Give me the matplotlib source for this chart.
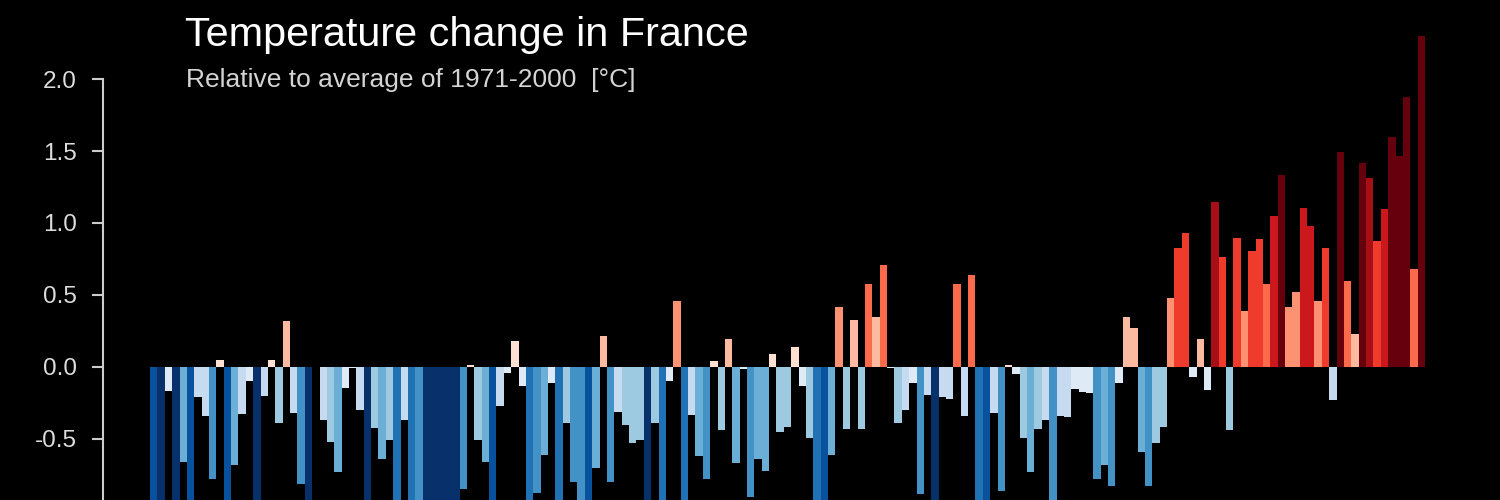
import numpy as np
import matplotlib
matplotlib.use("Agg")
import matplotlib.pyplot as plt
from matplotlib.colors import ListedColormap, Normalize

# annual anomalies (deg C, relative to 1971-2000)
years = np.arange(1850, 2023)
anomaly = [
    -1.2, -1.5, -0.165, -1.5, -0.657, -1.25, -0.21, -0.34, -0.78, 0.046,
    -1.25, -0.68, -0.33, -0.10, -1.5, -0.20, 0.046, -0.39, 0.317, -0.32,
    -0.81, -1.5, 0.0, -0.368, -0.52, -0.727, -0.148, -0.01, -0.30, -1.5,
    -0.426, -0.64, -0.51, -1.05, -0.368, -1.05, -0.94, -1.5, -1.5, -1.5,
    -1.5, -1.5, -0.85, 0.015, -0.507, -0.657, -1.2, -0.27, -0.04, 0.178,
    -0.132, -1.05, -0.877, -0.61, -0.109, -1.05, -0.39, -0.80, -0.94, -1.2,
    -0.70, 0.218, -0.80, -0.31, -0.40, -0.53, -0.51, -1.5, -0.39, -1.05,
    -0.097, 0.458, -1.05, -0.333, -0.62, -0.78, 0.039, -0.44, 0.195, -0.67,
    -0.015, -0.90, -0.64, -0.72, 0.088, -0.45, -0.42, 0.139, -0.13, -0.49,
    -1.05, -1.2, -0.61, 0.417, -0.43, 0.326, -0.43, 0.575, 0.347, 0.708,
    -0.01, -0.39, -0.30, -0.11, -0.88, -0.195, -1.5, -0.21, -0.22, 0.575,
    -0.34, 0.64, -1.05, -1.2, -0.32, -0.86, 0.016, -0.05, -0.49, -0.73,
    -0.43, -0.37, -0.94, -0.34, -0.35, -0.155, -0.174, -0.178, -0.775, -0.68,
    -0.83, -0.11, 0.35, 0.27, -0.59, -0.826, -0.53, -0.42, 0.48, 0.826,
    0.928, -0.067, 0.195, -0.16, 1.145, 0.765, -0.44, 0.896, 0.389, 0.808,
    0.889, 0.578, 1.049, 1.335, 0.417, 0.519, 1.104, 0.977, 0.458, 0.826,
    -0.229, 1.495, 0.597, 0.229, 1.414, 1.31, 0.877, 1.097, 1.60, 1.468,
    1.873, 0.678, 2.299,
]
yticks = [-0.5, 0.0, 0.5, 1.0, 1.5, 2.0]

stripe_colors = [
    "#08306b", "#08519c", "#2171b5", "#4292c6", "#6baed6", "#9ecae1", "#c6dbef", "#deebf7",
    "#fee0d2", "#fcbba1", "#fc9272", "#fb6a4a", "#ef3b2c", "#cb181d", "#a50f15", "#67000d",
]
cmap = ListedColormap(stripe_colors)
norm = Normalize(vmin=-1.52, vmax=1.52, clip=True)

fig = plt.figure(figsize=(15, 5), dpi=100, facecolor="black")
# axes placed in pixels: spine at x=103, bars 150..1425
ax = fig.add_axes([103 / 1500, 0.0, 1337 / 1500, 480 / 500])
ax.set_facecolor("black")

x = np.arange(len(years))
ax.bar(x, anomaly, width=1.0, color=cmap(norm(np.array(anomaly))), linewidth=0)

ax.set_xlim(-6.88, 174.53)
ax.set_ylim(-0.924, 2.41)

for s in ["top", "right", "bottom"]:
    ax.spines[s].set_visible(False)
ax.spines["left"].set_color("#cccccc")
ax.spines["left"].set_linewidth(1.5)
ax.spines["left"].set_bounds(-3, 2.0)

ax.set_xticks([])
ax.set_yticks(yticks)
ax.set_yticklabels([f"{v:.1f}" for v in yticks])
ax.tick_params(axis="y", colors="#cccccc", labelcolor="#dddddd", length=8,
               width=1.5, pad=11, labelsize=17.5)
for lbl in ax.get_yticklabels():
    lbl.set_fontfamily("Liberation Sans")

fig.text(185 / 1500, 1 - 46 / 500, "Temperature change in France",
         color="white", fontsize=29.8, family="Liberation Sans")
fig.text(186 / 1500, 1 - 87 / 500, "Relative to average of 1971-2000  [°C]",
         color="#d4d4d4", fontsize=19, family="Liberation Sans")

fig.savefig("out.png", dpi=100, facecolor="black")
